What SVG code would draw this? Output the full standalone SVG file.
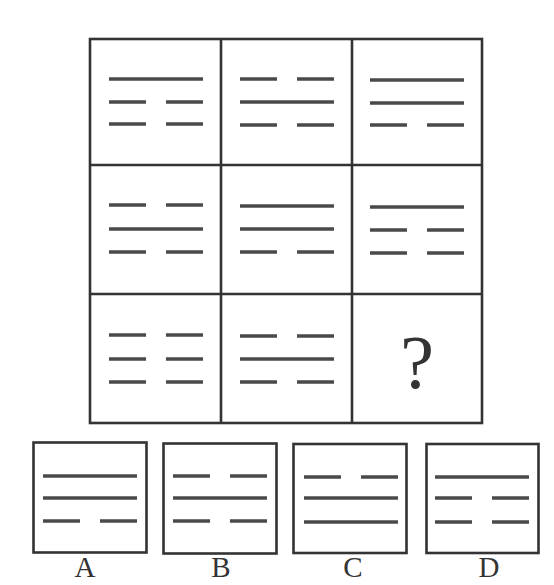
<svg xmlns="http://www.w3.org/2000/svg" xmlns:xlink="http://www.w3.org/1999/xlink" width="554" height="585" viewBox="0 0 554 585">
<style>
.frame{fill:none;stroke:#333;stroke-width:2.6}
.bar{stroke:#4a4a4a;stroke-width:3.4;fill:none}
.lbl{font-family:"Liberation Serif","Times New Roman",serif;fill:#333;text-anchor:middle}
</style>
<defs>
<path id="yang" class="bar" d="M0 0H94"/>
<path id="yin" class="bar" d="M0 0H37M57 0H94"/>
</defs>
<rect width="554" height="585" fill="#fff"/>
<g id="grid">
<rect class="frame" x="90" y="39" width="392" height="384"/>
<path class="frame" d="M221 39V423M352 39V423M90 165H482M90 294H482"/>
</g>
<g id="cell1"><use href="#yang" x="109" y="79"/><use href="#yin" x="109" y="102"/><use href="#yin" x="109" y="124"/></g>
<g id="cell2"><use href="#yin" x="240" y="79"/><use href="#yang" x="240" y="102"/><use href="#yin" x="240" y="125"/></g>
<g id="cell3"><use href="#yang" x="370" y="80"/><use href="#yang" x="370" y="103"/><use href="#yin" x="370" y="125"/></g>
<g id="cell4"><use href="#yin" x="109" y="205"/><use href="#yang" x="109" y="229"/><use href="#yin" x="109" y="252"/></g>
<g id="cell5"><use href="#yang" x="240" y="206"/><use href="#yang" x="240" y="229"/><use href="#yin" x="240" y="252"/></g>
<g id="cell6"><use href="#yang" x="370" y="207"/><use href="#yin" x="370" y="230"/><use href="#yin" x="370" y="253"/></g>
<g id="cell7"><use href="#yin" x="109" y="335"/><use href="#yin" x="109" y="359"/><use href="#yin" x="109" y="382"/></g>
<g id="cell8"><use href="#yin" x="240" y="336"/><use href="#yang" x="240" y="359"/><use href="#yin" x="240" y="382"/></g>
<g id="cell9"><text class="lbl" x="417" y="388" font-size="76">?</text></g>
<g id="optionA">
<rect class="frame" x="33.5" y="442.5" width="113" height="110"/>
<use href="#yang" x="43" y="476"/><use href="#yang" x="43" y="498"/><use href="#yin" x="43" y="521"/>
<text class="lbl" x="85" y="577" font-size="29">A</text>
</g>
<g id="optionB">
<rect class="frame" x="163.5" y="443.5" width="113" height="110"/>
<use href="#yin" x="173" y="476"/><use href="#yang" x="173" y="498"/><use href="#yin" x="173" y="521"/>
<text class="lbl" x="221" y="577" font-size="29">B</text>
</g>
<g id="optionC">
<rect class="frame" x="293.5" y="444" width="113" height="109"/>
<use href="#yin" x="304" y="477"/><use href="#yang" x="304" y="498"/><use href="#yang" x="304" y="522"/>
<text class="lbl" x="353" y="577" font-size="29">C</text>
</g>
<g id="optionD">
<rect class="frame" x="426.5" y="444" width="112" height="109"/>
<use href="#yang" x="435" y="477"/><use href="#yin" x="435" y="498"/><use href="#yin" x="435" y="522"/>
<text class="lbl" x="489" y="577" font-size="29">D</text>
</g>
<g id="connectors"/>
</svg>
